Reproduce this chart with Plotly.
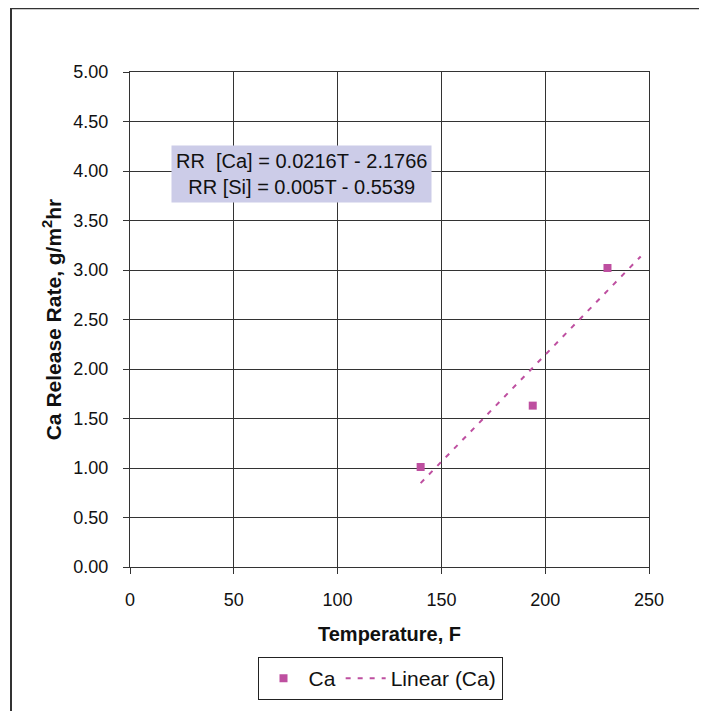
import plotly.graph_objects as go
import numpy as np

temps = [140, 194, 230]
ca_rate = [1.01, 1.63, 3.02]
slope = 0.0216
intercept = -2.1766
trend_range = [140, 246]
x_ticks = [0, 50, 100, 150, 200, 250]
y_ticks = [0.0, 0.5, 1.0, 1.5, 2.0, 2.5, 3.0, 3.5, 4.0, 4.5, 5.0]

tx = np.array(trend_range, dtype=float)
ty = slope * tx + intercept

MAG = "#BE4FA0"
FONT = "Liberation Sans, Arial, sans-serif"

# page body has an 8px margin, so figure origin is at (8, 8)
OFF = 8
PL, PR, PT, PB = 130, 649, 72, 568   # target plot area in page px
W, H = 699, 703

def px_to_paper_x(px):
    return (px - PL) / (PR - PL)

def px_to_paper_y(py):
    return (PB - py) / (PB - PT)

fig = go.Figure()
fig.add_trace(go.Scatter(x=temps, y=ca_rate, mode="markers", name="Ca",
                         marker=dict(symbol="square", size=8, color=MAG)))
fig.add_trace(go.Scatter(x=tx, y=ty, mode="lines", name="Linear (Ca)",
                         line=dict(color=MAG, width=2, dash="5px,7px")))

fig.update_layout(
    width=W, height=H,
    margin=dict(l=PL - OFF, r=W - (PR - OFF), t=PT - OFF, b=H - (PB - OFF)),
    paper_bgcolor="white", plot_bgcolor="white",
    font=dict(family=FONT, size=18, color="#111"),
    showlegend=True,
    legend=dict(orientation="h", x=px_to_paper_x(380), xanchor="center",
                y=px_to_paper_y(657), yanchor="top",
                bordercolor="#222", borderwidth=1, font=dict(size=21),
                itemwidth=40, tracegroupgap=0),
    xaxis=dict(range=[0, 250], tickvals=x_ticks, ticktext=[str(v) for v in x_ticks],
               showgrid=True, gridcolor="#333", gridwidth=1,
               showline=True, linecolor="#333", linewidth=1, mirror=True,
               ticks="outside", ticklen=6, tickcolor="#333", zeroline=False,
               tickfont=dict(size=18), ticklabelstandoff=10,
               title=dict(text="<b>Temperature, F</b>", font=dict(size=20), standoff=18)),
    yaxis=dict(range=[0, 5], tickvals=y_ticks, ticktext=[f"{v:.2f}" for v in y_ticks],
               showgrid=True, gridcolor="#333", gridwidth=1,
               showline=True, linecolor="#333", linewidth=1, mirror=True,
               ticks="outside", ticklen=6, tickcolor="#333", zeroline=False,
               tickfont=dict(size=18), ticklabelstandoff=11,
               title=dict(text="<b>Ca Release Rate, g/m<sup>2</sup>hr</b>", font=dict(size=21), standoff=6)),
)

fig.add_annotation(xref="paper", yref="paper", x=px_to_paper_x(301), y=px_to_paper_y(174),
                   xanchor="center", yanchor="middle",
                   text="RR  [Ca] = 0.0216T - 2.1766<br>RR [Si] = 0.005T - 0.5539",
                   showarrow=False, bgcolor="#CCCCE8", borderpad=4, align="center",
                   font=dict(size=20, color="#111", family=FONT))

fig.add_shape(type="rect", xref="paper", yref="paper",
              x0=px_to_paper_x(11), x1=1.4, y0=-0.5, y1=px_to_paper_y(8),
              line=dict(color="#333", width=2), layer="below")

fig.write_html("out.html")
